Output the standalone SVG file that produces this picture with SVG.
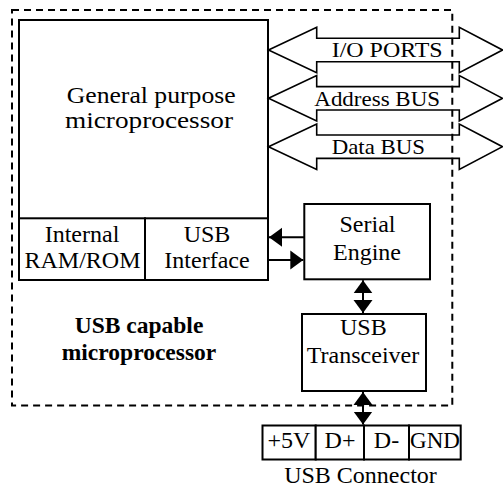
<svg xmlns="http://www.w3.org/2000/svg" width="503" height="488" viewBox="0 0 503 488" font-family="'Liberation Serif', 'Times New Roman', serif" font-size="24">
<defs>
<style>
.t{font-family:"Liberation Serif","Times New Roman",serif;fill:#000;text-anchor:middle}
.box{fill:#fff;stroke:#000;stroke-width:2}
.bus{fill:none;stroke:#000;stroke-width:1.6}
.dash{fill:none;stroke:#000;stroke-width:2;stroke-dasharray:7 5}
.conn{stroke:#000;stroke-width:2;fill:none}
.bold{font-weight:bold}
.st{text-anchor:start}
</style>
<marker id="ah" markerUnits="userSpaceOnUse" markerWidth="14" markerHeight="20" refX="13" refY="10" orient="auto-start-reverse" viewBox="0 0 14 20">
<path d="M0,0.5 L13,10 L0,19.5 z" fill="#000"/>
</marker>
</defs>
<rect width="503" height="488" fill="#fff"/>

<g id="cpu">
<rect class="box" x="19" y="20" width="249" height="260"/>
<text class="t st" x="66.7" y="103" font-size="23" textLength="169" lengthAdjust="spacingAndGlyphs">General purpose</text>
<text class="t st" x="65" y="127.5" font-size="23" textLength="168" lengthAdjust="spacingAndGlyphs">microprocessor</text>
</g>

<g id="ram">
<rect class="box" x="19" y="218.3" width="126" height="61.7"/>
<text class="t" x="82" y="241.7">Internal</text>
<text class="t" x="82.5" y="268.3">RAM/ROM</text>
</g>

<g id="usbif">
<rect class="box" x="145" y="218.3" width="123" height="61.7"/>
<text class="t" x="207" y="241.7">USB</text>
<text class="t" x="207" y="268.3">Interface</text>
</g>

<g id="buses">
<g id="io">
<path class="bus" d="M268.5,50 L316.7,27.3 L316.7,38.3 L459.3,38.3 L459.3,27.3 L502.5,50 L459.3,72.7 L459.3,61.7 L316.7,61.7 L316.7,72.7 Z"/>
<text class="t st" x="331.7" y="57.3" font-size="21" textLength="111" lengthAdjust="spacingAndGlyphs">I/O PORTS</text>
</g>
<g id="addr">
<path class="bus" d="M268.5,98.3 L316.7,75.6 L316.7,86.6 L459.3,86.6 L459.3,75.6 L502.5,98.3 L459.3,121 L459.3,110 L316.7,110 L316.7,121 Z"/>
<text class="t st" x="314.3" y="106" font-size="21" textLength="125.7" lengthAdjust="spacingAndGlyphs">Address BUS</text>
</g>
<g id="data">
<path class="bus" d="M268.5,146.7 L316.7,124 L316.7,135 L459.3,135 L459.3,124 L502.5,146.7 L459.3,169.4 L459.3,158.4 L316.7,158.4 L316.7,169.4 Z"/>
<text class="t st" x="331.7" y="154" font-size="21" textLength="93.3" lengthAdjust="spacingAndGlyphs">Data BUS</text>
</g>
</g>

<g id="serial">
<rect class="box" x="304.3" y="204" width="125.7" height="75.3"/>
<text class="t" x="367.5" y="231.7">Serial</text>
<text class="t" x="367" y="260">Engine</text>
</g>

<g id="transceiver">
<rect class="box" x="302" y="314" width="124" height="77"/>
<text class="t" x="363.3" y="335">USB</text>
<text class="t" x="363" y="363.3">Transceiver</text>
</g>

<g id="label">
<text class="t bold" x="139" y="333.3" font-size="23.5">USB capable</text>
<text class="t bold" x="139" y="360" font-size="23.5">microprocessor</text>
</g>

<g id="boundary">
<rect class="dash" x="12" y="10" width="440.3" height="395.5"/>
</g>

<g id="connector">
<rect class="box" x="262.5" y="425.5" width="53.2" height="34"/>
<rect class="box" x="315.7" y="425.5" width="48.3" height="34"/>
<rect class="box" x="364" y="425.5" width="45" height="34"/>
<rect class="box" x="409" y="425.5" width="51.7" height="34"/>
<text class="t" x="289" y="448.3">+5V</text>
<text class="t" x="340" y="448.3">D+</text>
<text class="t" x="386.5" y="448.3">D-</text>
<text class="t" x="435" y="448.3" font-size="23">GND</text>
<text class="t" x="360.5" y="483.3">USB Connector</text>
</g>

<g id="connectors">
<line class="conn" x1="304.3" y1="237.3" x2="269" y2="237.3" marker-end="url(#ah)"/>
<line class="conn" x1="268" y1="260" x2="303.3" y2="260" marker-end="url(#ah)"/>
<line class="conn" x1="363" y1="280.3" x2="363" y2="313" marker-start="url(#ah)" marker-end="url(#ah)"/>
<line class="conn" x1="363" y1="392" x2="363" y2="424.5" marker-start="url(#ah)" marker-end="url(#ah)"/>
</g>
</svg>
